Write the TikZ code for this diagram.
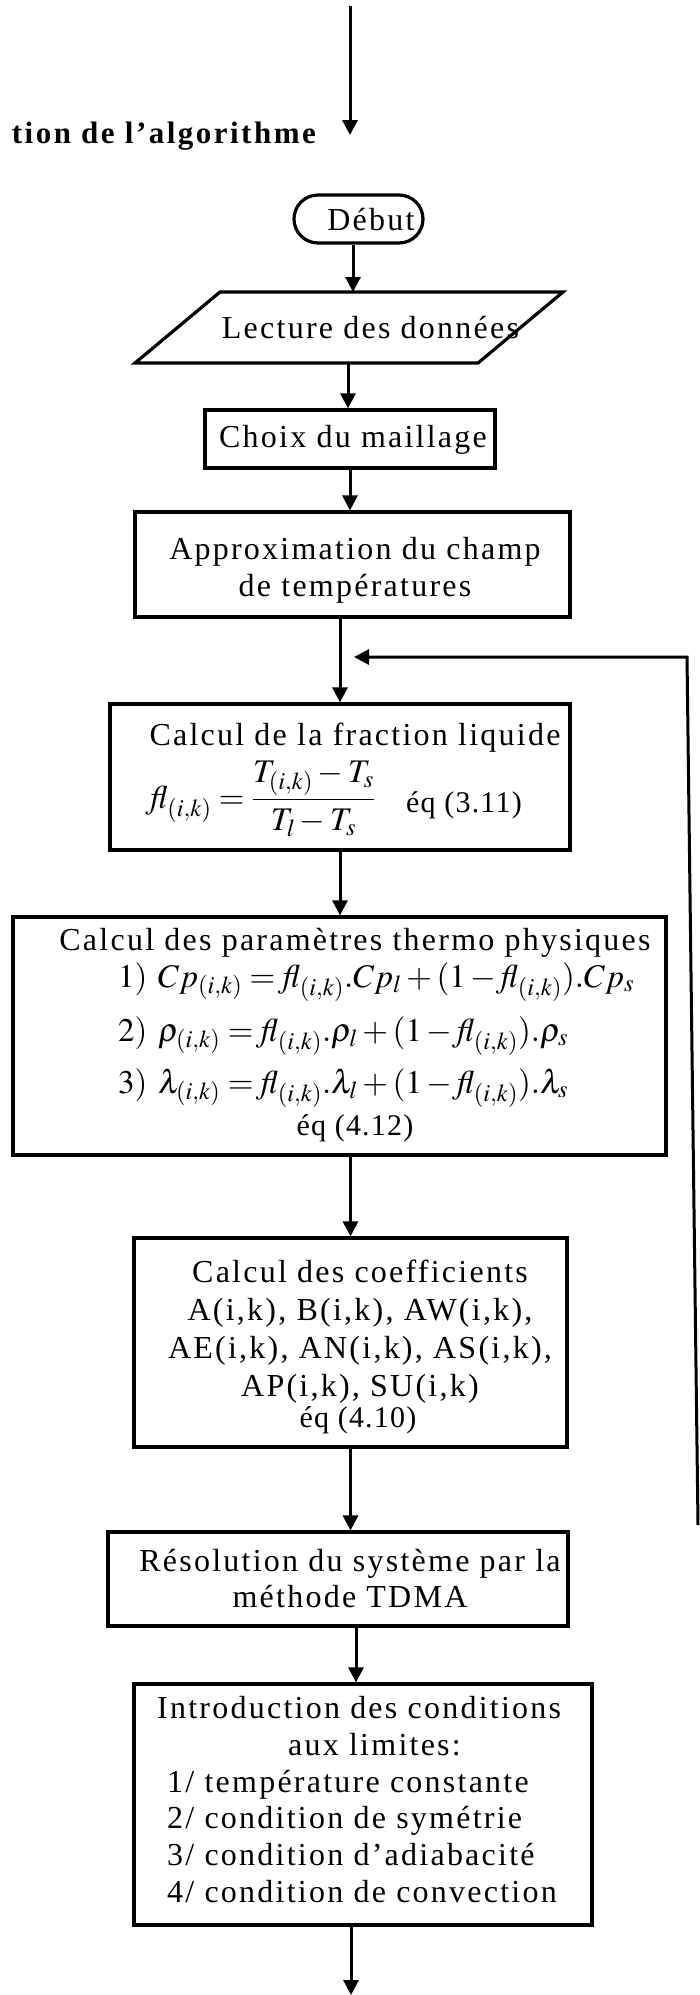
\documentclass[tikz,border=0pt]{standalone}
\usepackage{mathptmx}
\usepackage[no-math]{fontspec}
\setmainfont{Liberation Serif}[LetterSpace=7,Ligatures={TeX,CommonOff}]
\newfontfamily\eqfont{Liberation Serif}[LetterSpace=4,Ligatures={TeX,CommonOff}]
\newfontfamily\ttlfont{Liberation Serif}[LetterSpace=8,Ligatures={TeX,CommonOff}]
\usetikzlibrary{arrows.meta}
\tikzset{
  boxst/.style={draw, line width=3.2pt, inner sep=0pt},
  txt/.style={inner sep=0pt, font=\fontsize{32}{37}\selectfont},
  smalltxt/.style={inner sep=0pt, font=\fontsize{30}{32}\selectfont\eqfont},
  mathst/.style={inner sep=0pt, font=\fontsize{33}{40}\selectfont},
  titlest/.style={inner sep=0pt, font=\fontsize{31}{37}\selectfont\ttlfont\bfseries},
  arr/.style={line width=3pt, -{Triangle[width=15pt,length=15pt]}},
}
\begin{document}
\begin{tikzpicture}[x=1pt,y=-1pt]
\useasboundingbox (0,0) rectangle (700,1995);

% incoming arrow and title
\coordinate (in0) at (350,6);
\coordinate (in1) at (350,135);
\draw[arr] (in0) -- (in1);
\node[titlest, anchor=base east] (title) at (316,143) {tion de l’algorithme};

% Debut
\node[boxst, rounded corners=24pt, minimum width=129pt, minimum height=48pt] (debut) at (358.5,219) {};
\node[txt] (debut-t) at (371,220) {Début};

% Lecture (parallelogram)
\coordinate (lTL) at (220,292);
\coordinate (lTR) at (563,292);
\coordinate (lBR) at (478,363);
\coordinate (lBL) at (135,363);
\draw[line width=3.2pt] (lTL) -- (lTR) -- (lBR) -- (lBL) -- cycle;
\node[txt] (lecture) at (370.5,328) {Lecture des données};
\coordinate (lecIn) at (353,292);
\coordinate (lecOut) at (348,363);
\draw[arr] (debut.south -| lecIn) -- (lecIn);

% Choix
\node[boxst, minimum width=290pt, minimum height=58pt] (choix) at (350,439) {};
\node[txt] (choix-t) at (353,440) {Choix du maillage};
\draw[arr] (lecOut) -- (lecOut |- choix.north);

% Approximation
\node[boxst, minimum width=435pt, minimum height=105pt] (approx) at (352.5,564.5) {};
\node[txt, align=center] (approx-t) at (355,570) {Approximation du champ\\de températures};
\draw[arr] (choix.south) -- (choix.south |- approx.north);

% Fraction liquide
\node[boxst, minimum width=460pt, minimum height=146pt] (frac) at (340,777) {};
\draw[arr] (approx.south -| frac) -- (frac.north);
\node[txt, anchor=base] (frac-t) at (355,745) {Calcul de la fraction liquide};
\node[mathst, anchor=base west] (frac-f) at (150,808) {$\mathit{fl}_{(i,k)} = \displaystyle\frac{T_{(i,k)} - T_s}{T_l - T_s}$};
\node[smalltxt, anchor=base west] (frac-eq) at (406,812) {éq (3.11)};

% Parametres thermo physiques
\node[boxst, minimum width=653pt, minimum height=238pt] (param) at (339.5,1036) {};
\draw[arr] (frac.south) -- (frac.south |- param.north);
\node[txt, anchor=base] (param-t) at (355,950) {Calcul des paramètres thermo physiques};
\node[mathst, anchor=base west] (p1) at (118,987) {$1)\ Cp_{(i,k)} = \mathit{fl}_{(i,k)}.Cp_l + (1 - \mathit{fl}_{(i,k)}).Cp_s$};
\node[mathst, anchor=base west] (p2) at (118,1041) {$2)\ \rho_{(i,k)} = \mathit{fl}_{(i,k)}.\rho_l + (1 - \mathit{fl}_{(i,k)}).\rho_s$};
\node[mathst, anchor=base west] (p3) at (118,1093) {$3)\ \lambda_{(i,k)} = \mathit{fl}_{(i,k)}.\lambda_l + (1 - \mathit{fl}_{(i,k)}).\lambda_s$};
\node[smalltxt, anchor=base] (param-eq) at (355,1135) {éq (4.12)};

% Coefficients
\node[boxst, minimum width=433pt, minimum height=209pt] (coef) at (350.5,1342.5) {};
\draw[arr] (coef.north |- param.south) -- (coef.north);
\node[txt, align=center, font=\fontsize{32}{38}\selectfont] (coef-t) at (360,1332) {Calcul des coefficients\\A(i,k), B(i,k), AW(i,k),\\AE(i,k), AN(i,k), AS(i,k),\\AP(i,k), SU(i,k)};
\node[smalltxt, anchor=base] (coef-eq) at (358,1427) {éq (4.10)};

% Resolution
\node[boxst, minimum width=460pt, minimum height=94pt] (res) at (338,1579) {};
\draw[arr] (coef.south) -- (coef.south |- res.north);
\node[txt, align=center, font=\fontsize{32}{36}\selectfont] (res-t) at (350,1579) {Résolution du système par la\\méthode TDMA};

% Introduction des conditions aux limites
\node[boxst, minimum width=458pt, minimum height=241pt] (intro) at (363,1804.5) {};
\draw[arr] ([xshift=18pt]res.south) -- ([xshift=18pt]res.south |- intro.north);
\node[txt, align=left, anchor=north west, font=\fontsize{32}{36.8}\selectfont] (intro-t) at (157,1696) {Introduction des conditions\\\hspace*{131pt}aux limites:\\\hspace*{10pt}1/ température constante\\\hspace*{10pt}2/ condition de symétrie\\\hspace*{10pt}3/ condition d’adiabacité\\\hspace*{10pt}4/ condition de convection};

% outgoing arrow
\coordinate (out) at (351,1995);
\draw[arr] (intro.south -| out) -- (out);

% feedback loop
\coordinate (loopA) at (698,1525);
\coordinate (loopB) at (687,657);
\coordinate (loopC) at (354,657);
\draw[arr] (loopA) -- (loopB) -- (loopC);
\end{tikzpicture}
\end{document}
